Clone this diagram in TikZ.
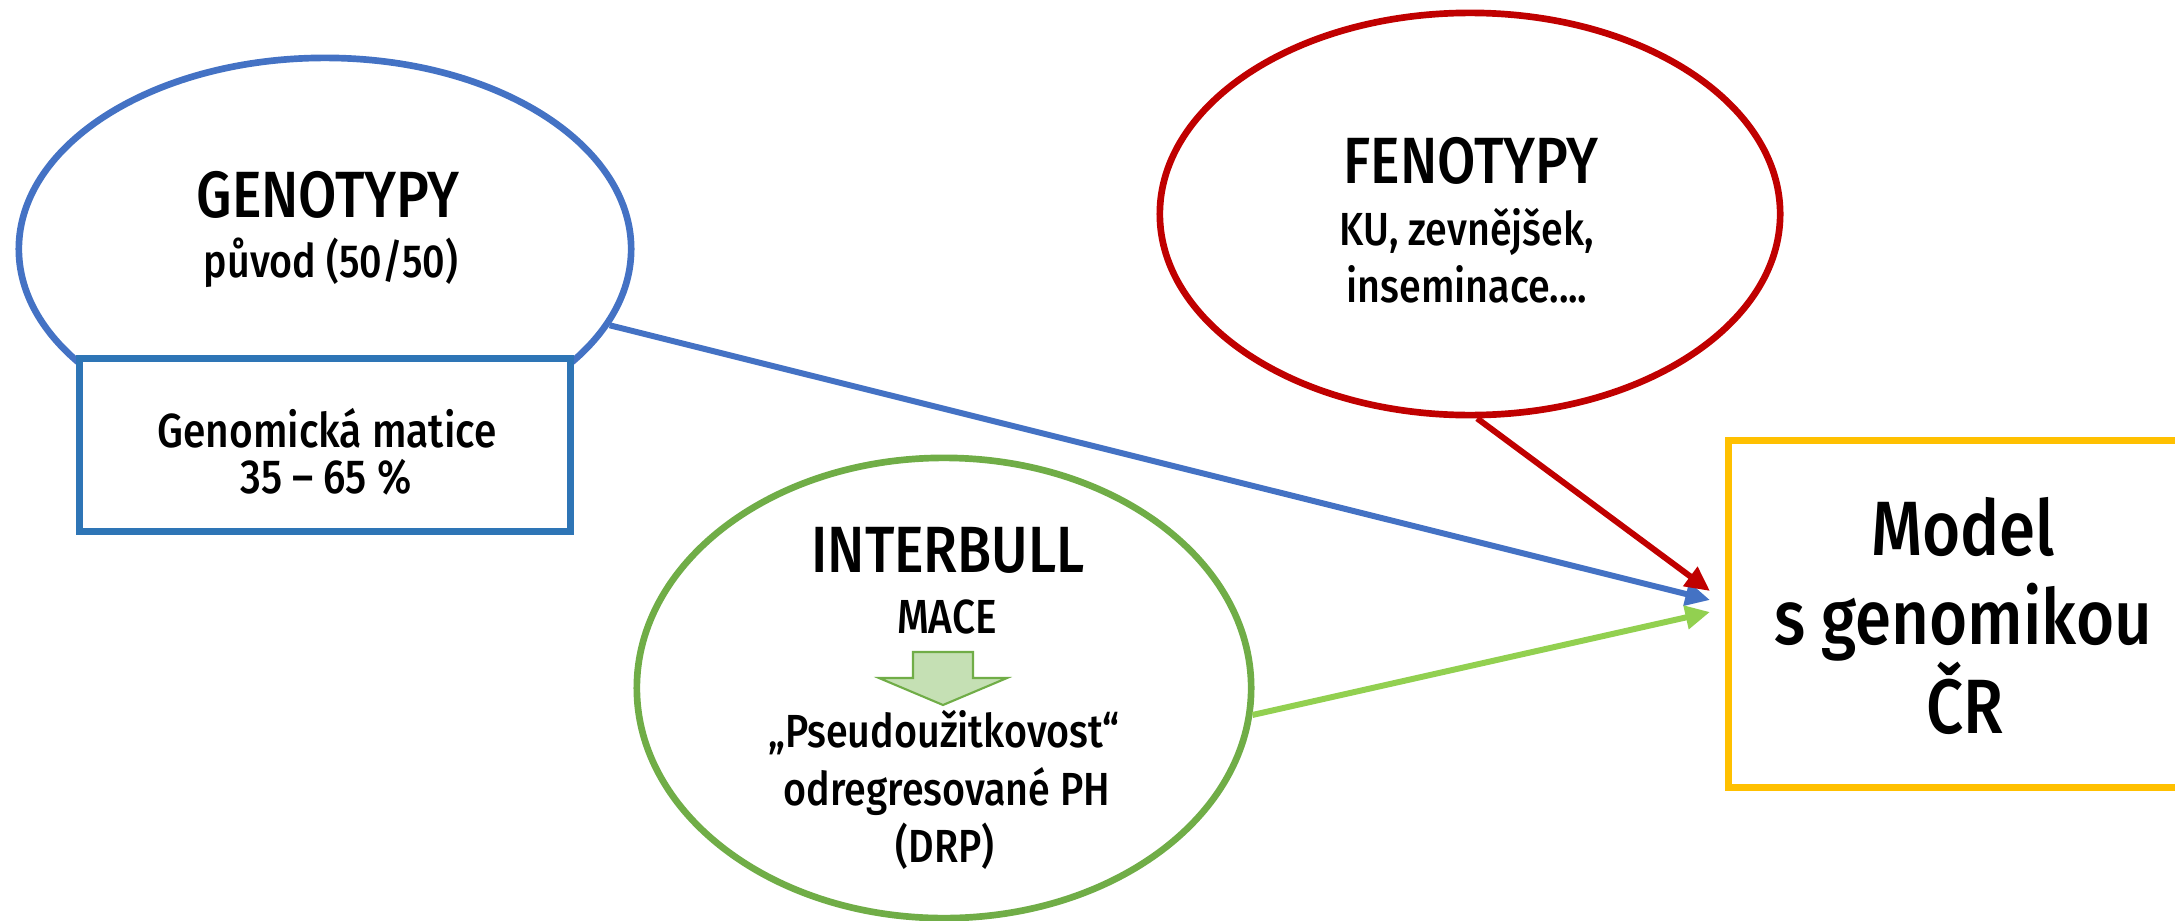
\documentclass[tikz,border=0pt]{standalone}
\usepackage{fontspec}
\setmainfont{Fira Sans Medium}[FakeStretch=0.85]
\usetikzlibrary{shapes.geometric,arrows.meta}

\begin{document}
\begin{tikzpicture}[x=0.01cm,y=-0.01cm,
  bubble/.style={ellipse,draw,line width=1.9pt,fill=white,inner sep=0pt},
  head/.style={anchor=base,font=\fontsize{18.6}{20}\selectfont},
  sub/.style={anchor=base,font=\fontsize{13.2}{15}\selectfont},
  small/.style={anchor=base,font=\fontsize{13.2}{15}\selectfont},
  big/.style={anchor=base,font=\fontsize{21.9}{24}\selectfont},
  link/.style={line width=1.7pt,-{Triangle[length=7pt,width=6.5pt]}}]
% Define colours
\definecolor{geno}{RGB}{68,114,196}
\definecolor{genobox}{RGB}{46,117,182}
\definecolor{feno}{RGB}{192,0,0}
\definecolor{inter}{RGB}{112,173,71}
\definecolor{interlink}{RGB}{146,208,80}
\definecolor{modelc}{RGB}{255,192,0}
\definecolor{macefill}{RGB}{197,224,180}

\useasboundingbox (0,0) rectangle (2175,921);

% Draw main bubbles
\node[bubble,draw=geno,minimum width=6.12cm,minimum height=3.82cm] (genotypy) at (325,249) {};
\node[draw=genobox,line width=2pt,fill=white,minimum width=4.9cm,minimum height=1.72cm] (matice) at (325,445) {};
\node[bubble,draw=feno,minimum width=6.2cm,minimum height=4.02cm] (fenotypy) at (1470,214) {};
\node[bubble,draw=inter,minimum width=6.14cm,minimum height=4.6cm] (interbull) at (944,688) {};
\node[draw=modelc,line width=2pt,minimum width=4.7cm,minimum height=3.47cm] (model) at (1964,614) {};

% Add texts
\node[head] (genoT) at (328,217) {GENOTYPY};
\node[sub] (genoS) at (331,277) {původ (50/50)};
\node[small,font=\fontsize{13.6}{15}\selectfont] (maticeA) at (327,447) {Genomická matice};
\node[small,font=\fontsize{13.6}{15}\selectfont] (maticeB) at (326,493) {35 – 65 \%};

\node[head] (fenoT) at (1471,183) {FENOTYPY};
\node[sub] (fenoA) at (1467,245) {KU, zevnějšek,};
\node[sub] (fenoB) at (1467,302) {inseminace....};

\node[head] (interT) at (948,572) {INTERBULL};
\node[sub,font=\fontsize{13.6}{15}\selectfont] (interA) at (947,633) {MACE};
\node[small] (interB) at (944,747) {„Pseudoužitkovost“};
\node[small] (interC) at (947,805) {odregresované PH};
\node[small] (interD) at (945,862) {(DRP)};

\node[big] (modelA) at (1963,555) {Model};
\node[big] (modelB) at (1963,644) {s genomikou};
\node[big] (modelC) at (1965,733) {ČR};

% Small block arrow MACE -> DRP
\draw[draw=inter,fill=macefill,line width=0.6pt] (913,652) -- (973,652) -- (973,678) -- (1007,678)
  -- (943,705) -- (879,678) -- (913,678) -- cycle;

% Connectors into the model
\coordinate (inF) at (1710,591);
\coordinate (inG) at (1710,600);
\coordinate (inI) at (1710,612);
\draw[link,geno] (genotypy.-15) -- (inG);
\draw[link,feno] (fenotypy.-88) -- (inF);
\draw[link,interlink] (interbull.-5.4) -- (inI);
\end{tikzpicture}
\end{document}
